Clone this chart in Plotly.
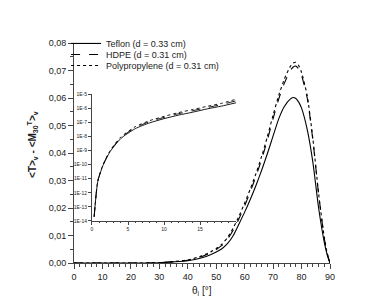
import plotly.graph_objects as go

# ---- data ----
angles = [0, 10, 20, 30, 35, 40, 45, 48, 50, 52, 54, 56, 58, 60, 62, 64, 66, 68, 70,
          72, 74, 76, 77, 78, 79, 80, 82, 84, 86, 88, 89, 90]
teflon = [0, 0, 0, 0.0001, 0.0004, 0.0008, 0.0019, 0.0030, 0.0040, 0.0052, 0.0071, 0.0100,
          0.0142, 0.0185, 0.0232, 0.0283, 0.0338, 0.0398, 0.0462, 0.0525, 0.0570, 0.0596,
          0.0602, 0.0598, 0.0585, 0.0563, 0.0485, 0.0365, 0.0200, 0.0075, 0.0030, 0.0]
hdpe = [0, 0, 0, 0.0001, 0.0005, 0.0010, 0.0024, 0.0037, 0.0049, 0.0064, 0.0087, 0.0120,
        0.0161, 0.0208, 0.0260, 0.0316, 0.0378, 0.0448, 0.0525, 0.0597, 0.0655, 0.0700,
        0.0712, 0.0716, 0.0705, 0.0682, 0.0600, 0.0445, 0.0250, 0.0090, 0.0035, 0.0]
polyprop = [0, 0, 0, 0.0001, 0.0005, 0.0011, 0.0026, 0.0040, 0.0053, 0.0069, 0.0093, 0.0128,
            0.0170, 0.0218, 0.0270, 0.0326, 0.0389, 0.0460, 0.0538, 0.0610, 0.0670, 0.0714,
            0.0727, 0.0730, 0.0718, 0.0693, 0.0608, 0.0450, 0.0252, 0.0092, 0.0036, 0.0]

inset_angles = [0.3, 0.8, 1.5, 2.5, 4, 6, 8, 10, 12, 14, 16, 18, 20]
inset_teflon = [2e-14, 6.3e-12, 8e-11, 8e-10, 7e-9, 3.5e-8, 9e-8, 1.8e-7, 3.2e-7, 5.2e-7,
                8.9e-7, 1.4e-6, 2.4e-6]
inset_hdpe = [2e-14, 6.5e-12, 8.5e-11, 9e-10, 8e-9, 4.2e-8, 1.1e-7, 2.2e-7, 4e-7, 6.6e-7,
              1.1e-6, 1.8e-6, 3.3e-6]
inset_polyprop = [2e-14, 6.8e-12, 9e-11, 9.5e-10, 9e-9, 4.8e-8, 1.3e-7, 2.6e-7, 4.8e-7,
                  8e-7, 1.35e-6, 2.2e-6, 4.3e-6]

names = ["Teflon (d = 0.33 cm)", "HDPE (d = 0.31 cm)", "Polypropylene (d = 0.31 cm)"]
dashes = ["solid", "dash", "dot"]

y_ticks = [0, 0.01, 0.02, 0.03, 0.04, 0.05, 0.06, 0.07, 0.08]
y_ticktext = ["0,00", "0,01", "0,02", "0,03", "0,04", "0,05", "0,06", "0,07", "0,08"]
x_ticks = [0, 10, 20, 30, 40, 50, 60, 70, 80, 90]
inset_y_ticks = [1e-14, 1e-13, 1e-12, 1e-11, 1e-10, 1e-9, 1e-8, 1e-7, 1e-6, 1e-5]
inset_y_text = ["1E-14", "1E-13", "1E-12", "1E-11", "1E-10", "1E-9", "1E-8", "1E-7", "1E-6", "1E-5"]
inset_x_ticks = [0, 5, 10, 15]

FONT = "Liberation Sans"
legend_ids = ["legend", "legend2", "legend3"]
legend_rows_y = [0.998, 0.948, 0.898]

fig = go.Figure()
for name, ys, d, lg in zip(names, [teflon, hdpe, polyprop], dashes, legend_ids):
    fig.add_trace(go.Scatter(x=angles, y=ys, mode="lines", name=name, legend=lg,
                             line=dict(color="black", width=1.1, dash=d, shape="spline", smoothing=0.6)))
for ys, d in zip([inset_teflon, inset_hdpe, inset_polyprop], dashes):
    fig.add_trace(go.Scatter(x=inset_angles, y=ys, mode="lines", showlegend=False,
                             xaxis="x2", yaxis="y2",
                             line=dict(color="black", width=0.9, dash=d, shape="spline", smoothing=0.6)))

axcol = "#444"
leg_common = dict(x=-0.031, xanchor="left", yanchor="middle", bgcolor="rgba(0,0,0,0)",
                  font=dict(size=9, family=FONT, color="#222"), itemwidth=30)
fig.update_layout(
    width=374, height=305,
    margin=dict(l=66, r=52, t=35, b=50),
    paper_bgcolor="white", plot_bgcolor="white",
    font=dict(family=FONT, size=9, color="#222"),
    xaxis=dict(range=[0, 90], tickvals=x_ticks, ticks="outside", ticklen=5, tickcolor=axcol,
               showline=True, linecolor=axcol, linewidth=1, showgrid=False, zeroline=False,
               minor=dict(ticks="outside", dtick=2, ticklen=3, tickcolor=axcol),
               tickfont=dict(size=9)),
    yaxis=dict(range=[0, 0.08], tickvals=y_ticks, ticktext=y_ticktext, ticks="outside",
               ticklen=5, tickcolor=axcol, showline=True, linecolor=axcol, linewidth=1,
               showgrid=False, zeroline=False,
               minor=dict(ticks="outside", dtick=0.005, ticklen=3, tickcolor=axcol),
               tickfont=dict(size=9)),
    xaxis2=dict(domain=[0.0703, 0.633], anchor="y2", range=[0, 20], tickvals=inset_x_ticks,
                ticks="outside", ticklen=3, tickcolor=axcol, showline=True, linecolor=axcol,
                linewidth=1, showgrid=False, zeroline=False, tickfont=dict(size=5),
                minor=dict(ticks="outside", dtick=1, ticklen=1.5, tickcolor=axcol)),
    yaxis2=dict(domain=[0.191, 0.768], anchor="x2", type="log", range=[-14, -5],
                tickvals=inset_y_ticks, ticktext=inset_y_text, ticks="outside", ticklen=3,
                tickcolor=axcol, showline=True, linecolor=axcol, linewidth=1,
                showgrid=False, zeroline=False, tickfont=dict(size=5)),
    legend=dict(y=legend_rows_y[0], **leg_common),
    legend2=dict(y=legend_rows_y[1], **leg_common),
    legend3=dict(y=legend_rows_y[2], **leg_common),
    showlegend=True,
)
fig.add_annotation(xref="paper", yref="paper", x=-0.165, y=0.54, textangle=-90, showarrow=False,
                   xanchor="center", yanchor="middle",
                   text="<b>&lt;T&gt;<sub>v</sub> - &lt;M<sub>30</sub><sup>T</sup>&gt;<sub>v</sub></b>",
                   font=dict(size=10, family=FONT, color="#222"))
fig.add_annotation(xref="paper", yref="paper", x=0.5, y=-0.127, showarrow=False,
                   xanchor="center", yanchor="middle",
                   text="θ<sub>i</sub> [°]", font=dict(size=10, family=FONT, color="#222"))
fig.write_html("out.html")
